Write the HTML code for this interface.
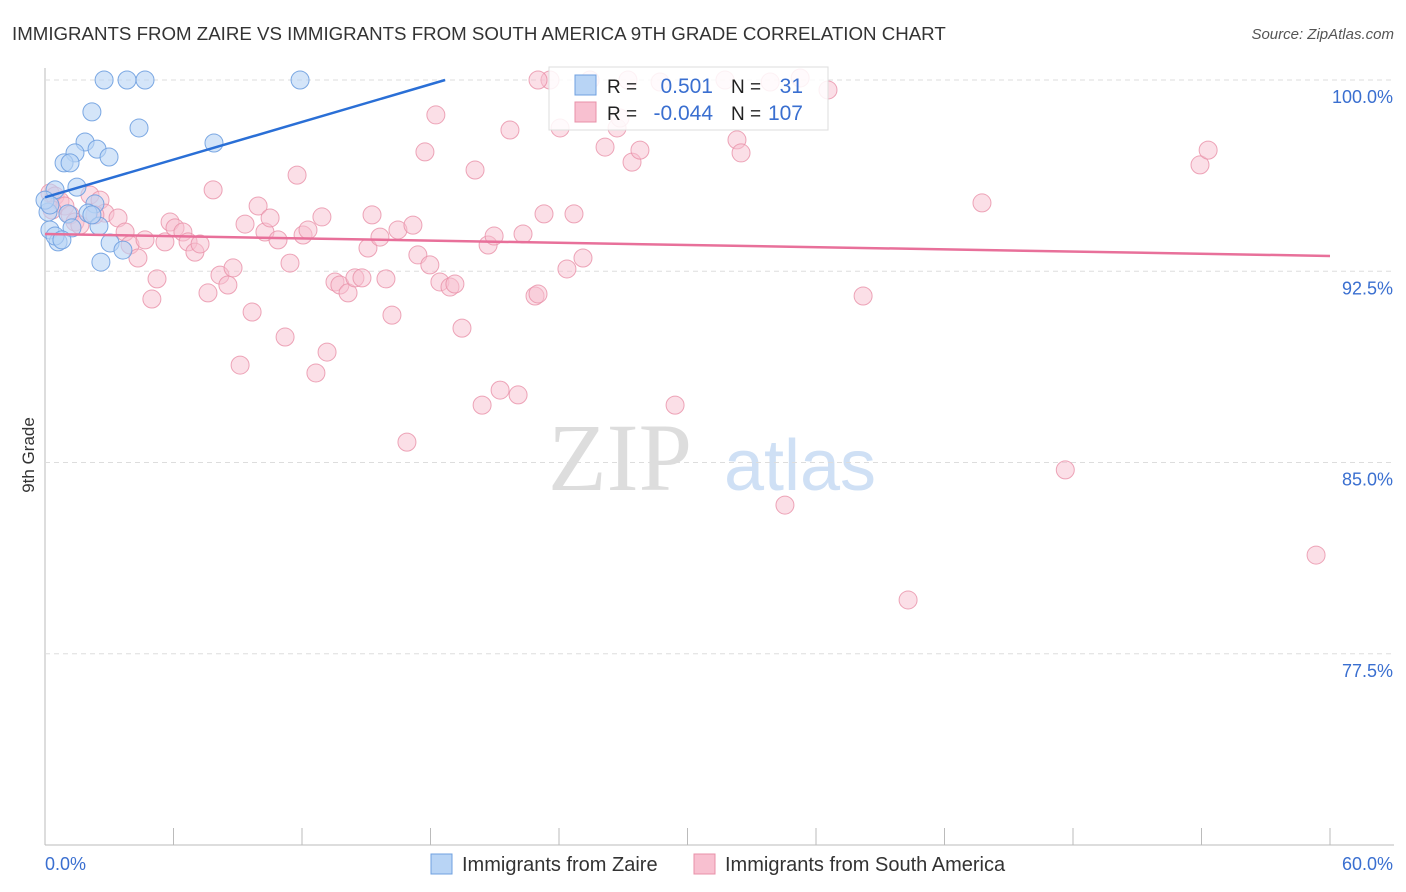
<!DOCTYPE html>
<html><head><meta charset="utf-8"><style>
body{margin:0;background:#fff;font-family:"Liberation Sans",sans-serif}
svg{display:block}
</style></head><body>
<svg id="chart" width="1406" height="892">
<text x="12" y="40" font-size="18.7" fill="#333">IMMIGRANTS FROM ZAIRE VS IMMIGRANTS FROM SOUTH AMERICA 9TH GRADE CORRELATION CHART</text>
<text x="1394" y="39" font-size="15" fill="#555" font-style="italic" text-anchor="end">Source: ZipAtlas.com</text>
<text x="34" y="455" font-size="17" fill="#333" text-anchor="middle" transform="rotate(-90 34 455)">9th Grade</text>
<text x="620" y="490" font-size="96" fill="#ddd" font-family="Liberation Serif" text-anchor="middle">ZIP</text>
<text x="800" y="490" font-size="72" fill="#cfe0f5" text-anchor="middle">atlas</text>
<g id="grid"></g><g id="pts"></g><g id="lines"></g>
<g>
<rect x="549" y="67" width="279" height="63" fill="#fff" fill-opacity="0.85" stroke="#ddd"/>
<rect x="575" y="75" width="21" height="20" fill="#b8d4f5" stroke="#6fa0e0"/>
<rect x="575" y="102" width="21" height="20" fill="#f8c0d0" stroke="#e890a8"/>
<text x="607" y="93" font-size="19" fill="#222">R =</text>
<text x="713" y="93" font-size="21" fill="#3a6fd0" text-anchor="end">0.501</text>
<text x="731" y="93" font-size="19" fill="#222">N =</text>
<text x="803" y="93" font-size="21" fill="#3a6fd0" text-anchor="end">31</text>
<text x="607" y="120" font-size="19" fill="#222">R =</text>
<text x="713" y="120" font-size="21" fill="#3a6fd0" text-anchor="end">-0.044</text>
<text x="731" y="120" font-size="19" fill="#222">N =</text>
<text x="803" y="120" font-size="21" fill="#3a6fd0" text-anchor="end">107</text>
</g>
<g>
<rect x="431" y="854" width="21" height="20" fill="#b8d4f5" stroke="#6fa0e0"/>
<text x="462" y="871" font-size="20" fill="#333">Immigrants from Zaire</text>
<rect x="694" y="854" width="21" height="20" fill="#f8c0d0" stroke="#e890a8"/>
<text x="725" y="871" font-size="20" fill="#333">Immigrants from South America</text>
</g>
</svg>
<script>
const yTicks=[100,92.5,85,77.5];
const yTickLabels=["100.0%","92.5%","85.0%","77.5%"];
const xTickLabels=["0.0%","60.0%"];
const blueX=[2.76,3.83,4.67,11.91,2.19,4.39,7.89,1.87,2.43,1.40,2.99,0.89,1.17,1.49,2.33,0.47,1.07,2.01,2.52,1.26,0.23,0.61,0.47,0.79,3.04,3.64,2.61,0.14,0.00,2.19,0.23];
const blueY=[100,100,100,100,98.75,98.12,97.53,97.57,97.29,97.14,96.98,96.75,96.75,95.80,95.14,95.69,94.75,94.78,94.27,94.20,94.12,93.65,93.88,93.73,93.61,93.33,92.86,94.82,95.29,94.71,95.10];
const pinkX=[0.23,0.47,0.70,0.93,0.33,1.17,1.40,2.10,2.57,2.80,1.63,2.33,3.41,3.74,3.97,4.34,4.67,4.99,5.23,5.60,5.84,6.07,6.44,6.68,7.00,7.24,7.61,7.85,8.17,8.54,8.78,9.11,9.34,9.67,9.95,10.27,10.51,10.88,11.21,11.44,11.77,12.05,12.28,12.65,12.93,13.17,13.54,13.77,14.15,14.47,14.80,15.08,15.27,15.64,15.92,16.20,16.48,16.90,17.18,17.41,17.74,17.97,18.25,18.44,18.91,19.14,19.47,20.08,20.41,20.69,20.97,21.25,21.71,22.09,22.32,22.88,23.02,23.30,23.58,24.05,24.37,24.70,25.12,26.15,26.71,27.22,27.41,27.78,29.42,31.75,32.31,32.50,34.55,38.20,40.30,43.75,47.64,53.93,54.31,59.35,36.56,26.85,28.72,33.86,35.26,25.45,23.02];
const pinkY=[95.57,95.45,95.25,95.06,94.90,94.71,94.43,95.49,95.29,94.78,94.31,94.71,94.59,94.04,93.53,93.02,93.73,91.41,92.20,93.65,94.43,94.20,94.04,93.65,93.25,93.57,91.65,95.69,92.35,91.96,92.63,88.82,94.35,90.90,95.06,94.04,94.59,93.73,89.92,92.82,96.27,93.92,94.12,88.51,94.63,89.33,92.08,91.96,91.65,92.24,92.24,93.41,94.71,93.84,92.20,90.78,94.12,85.80,94.31,93.14,97.18,92.75,98.63,92.08,91.88,92.00,90.27,96.47,87.25,93.53,93.88,87.84,98.04,87.65,93.96,91.53,91.61,94.75,100,98.12,92.59,94.75,93.02,97.37,98.12,100,96.78,97.25,87.25,100,97.65,97.14,83.33,91.53,79.61,95.18,84.71,96.67,97.25,81.37,99.61,98.51,99.92,99.92,100.08,100,100];
const blueLine=[[0,95.4],[18.68,100]];
const pinkLine=[[0,93.96],[60,93.1]];
const X=v=>45+v/60*1285, Y=v=>80+(100-v)*25.5;
const NS="http://www.w3.org/2000/svg";
function mk(tag,attrs,parent){const e=document.createElementNS(NS,tag);for(const k in attrs)e.setAttribute(k,attrs[k]);parent.appendChild(e);return e;}
const grid=document.getElementById('grid');
const ax=mk('line',{x1:45,y1:68,x2:45,y2:845,stroke:'#bbb'},grid);


const bx=mk('line',{x1:45,y1:845,x2:1394,y2:845,stroke:'#bbb'},grid);


yTicks.forEach((t,i)=>{
  const g=mk('line',{x1:45,y1:Y(t),x2:1394,y2:Y(t),stroke:'#ddd','stroke-dasharray':'5,4'},grid);
  
  
  const l=mk('text',{x:1393,y:Y(t)+23,'font-size':18,fill:'#3a6fd0','text-anchor':'end'},grid);
  l.textContent=yTickLabels[i];
  
  
});
for(let i=0;i<=10;i++){
  const x=45+i*128.5;
  const t=mk('line',{x1:x,y1:828,x2:x,y2:845,stroke:'#bbb'},grid);
  
  
}
xTickLabels.forEach((s,i)=>{
  const l=mk('text',{x:i?1393:45,y:870,'font-size':18,fill:'#3a6fd0','text-anchor':i?'end':'start'},grid);
  l.textContent=s;
  
  
});
const pts=document.getElementById('pts');
pinkX.forEach((v,i)=>{
  const c=mk('circle',{cx:X(v),cy:Y(pinkY[i]),r:9,fill:'#f8c0d0','fill-opacity':0.5,stroke:'#e890a8','stroke-opacity':0.8},pts);
  
  
});
blueX.forEach((v,i)=>{
  const c=mk('circle',{cx:X(v),cy:Y(blueY[i]),r:9,fill:'#b8d4f5','fill-opacity':0.6,stroke:'#6fa0e0','stroke-opacity':0.9},pts);
  
  
});
const lines=document.getElementById('lines');
const bl=mk('line',{x1:X(blueLine[0][0]),y1:Y(blueLine[0][1]),x2:X(blueLine[1][0]),y2:Y(blueLine[1][1]),stroke:'#2a6fd6','stroke-width':2.5},lines);


const pl=mk('line',{x1:X(pinkLine[0][0]),y1:Y(pinkLine[0][1]),x2:X(pinkLine[1][0]),y2:Y(pinkLine[1][1]),stroke:'#e8709a','stroke-width':2.5},lines);


</script>
</body></html>
